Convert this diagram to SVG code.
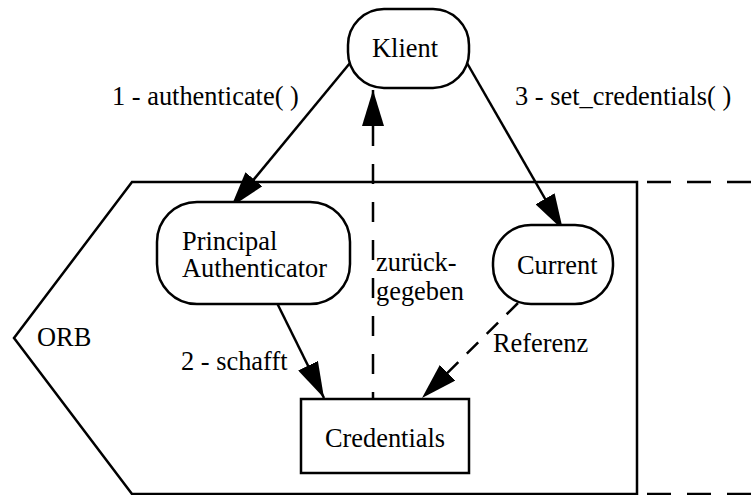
<svg xmlns="http://www.w3.org/2000/svg" width="752" height="495" viewBox="0 0 752 495">
<defs>
<style>
.t{font-family:'Liberation Serif','DejaVu Serif','Times New Roman',serif;font-size:26.4px;fill:#000}
.n{fill:#fff;stroke:#000;stroke-width:2.5}
.l{fill:none;stroke:#000;stroke-width:2.5}
.d{fill:none;stroke:#000;stroke-width:2.5;stroke-dasharray:20 18}
</style>
<marker id="ah" markerUnits="userSpaceOnUse" viewBox="0 0 36 22" refX="36" refY="11" markerWidth="36" markerHeight="22" orient="auto">
<path d="M0,0 L36,11 L0,22 Z" fill="#000"/>
</marker>
</defs>
<rect width="752" height="495" fill="#fff"/>
<g id="orb">
<path class="l" d="M637,182 L132,182 L14,338 L132,494 L637,494 Z"/>
<path class="d" d="M637,182 H752 M637,494 H752" style="stroke-dasharray:24 16;stroke-dashoffset:-10"/>
<text class="t" x="37" y="346">ORB</text>
</g>
<g id="connectors">
<line class="l" x1="350" y1="63" x2="231" y2="207" marker-end="url(#ah)"/>
<line class="l" x1="467" y1="63" x2="563" y2="230" marker-end="url(#ah)"/>
<line class="d" x1="373" y1="398" x2="373" y2="90" marker-end="url(#ah)" style="stroke-dashoffset:14"/>
<line class="l" x1="277" y1="303" x2="324" y2="398" marker-end="url(#ah)"/>
<line class="d" x1="518" y1="303" x2="422" y2="398" marker-end="url(#ah)" style="stroke-dasharray:16 12"/>
<text class="t" x="112" y="105">1 - authenticate( )</text>
<text class="t" x="515" y="105">3 - set_credentials( )</text>
<text class="t" x="181" y="370">2 - schafft</text>
<text class="t" x="376" y="271">zurück-</text>
<text class="t" x="376" y="300">gegeben</text>
<text class="t" x="493" y="352">Referenz</text>
</g>
<g id="klient">
<rect class="n" x="348" y="9" width="121" height="79" rx="36" ry="36"/>
<text class="t" x="405" y="57" text-anchor="middle">Klient</text>
</g>
<g id="principal">
<rect class="n" x="157" y="202" width="193" height="102" rx="40" ry="40"/>
<text class="t" x="182" y="250">Principal</text>
<text class="t" x="182" y="277">Authenticator</text>
</g>
<g id="current">
<rect class="n" x="493" y="225" width="120" height="79" rx="38" ry="38"/>
<text class="t" x="517" y="274">Current</text>
</g>
<g id="credentials">
<rect class="n" x="301" y="399" width="168" height="74"/>
<text class="t" x="385" y="447" text-anchor="middle">Credentials</text>
</g>
</svg>
